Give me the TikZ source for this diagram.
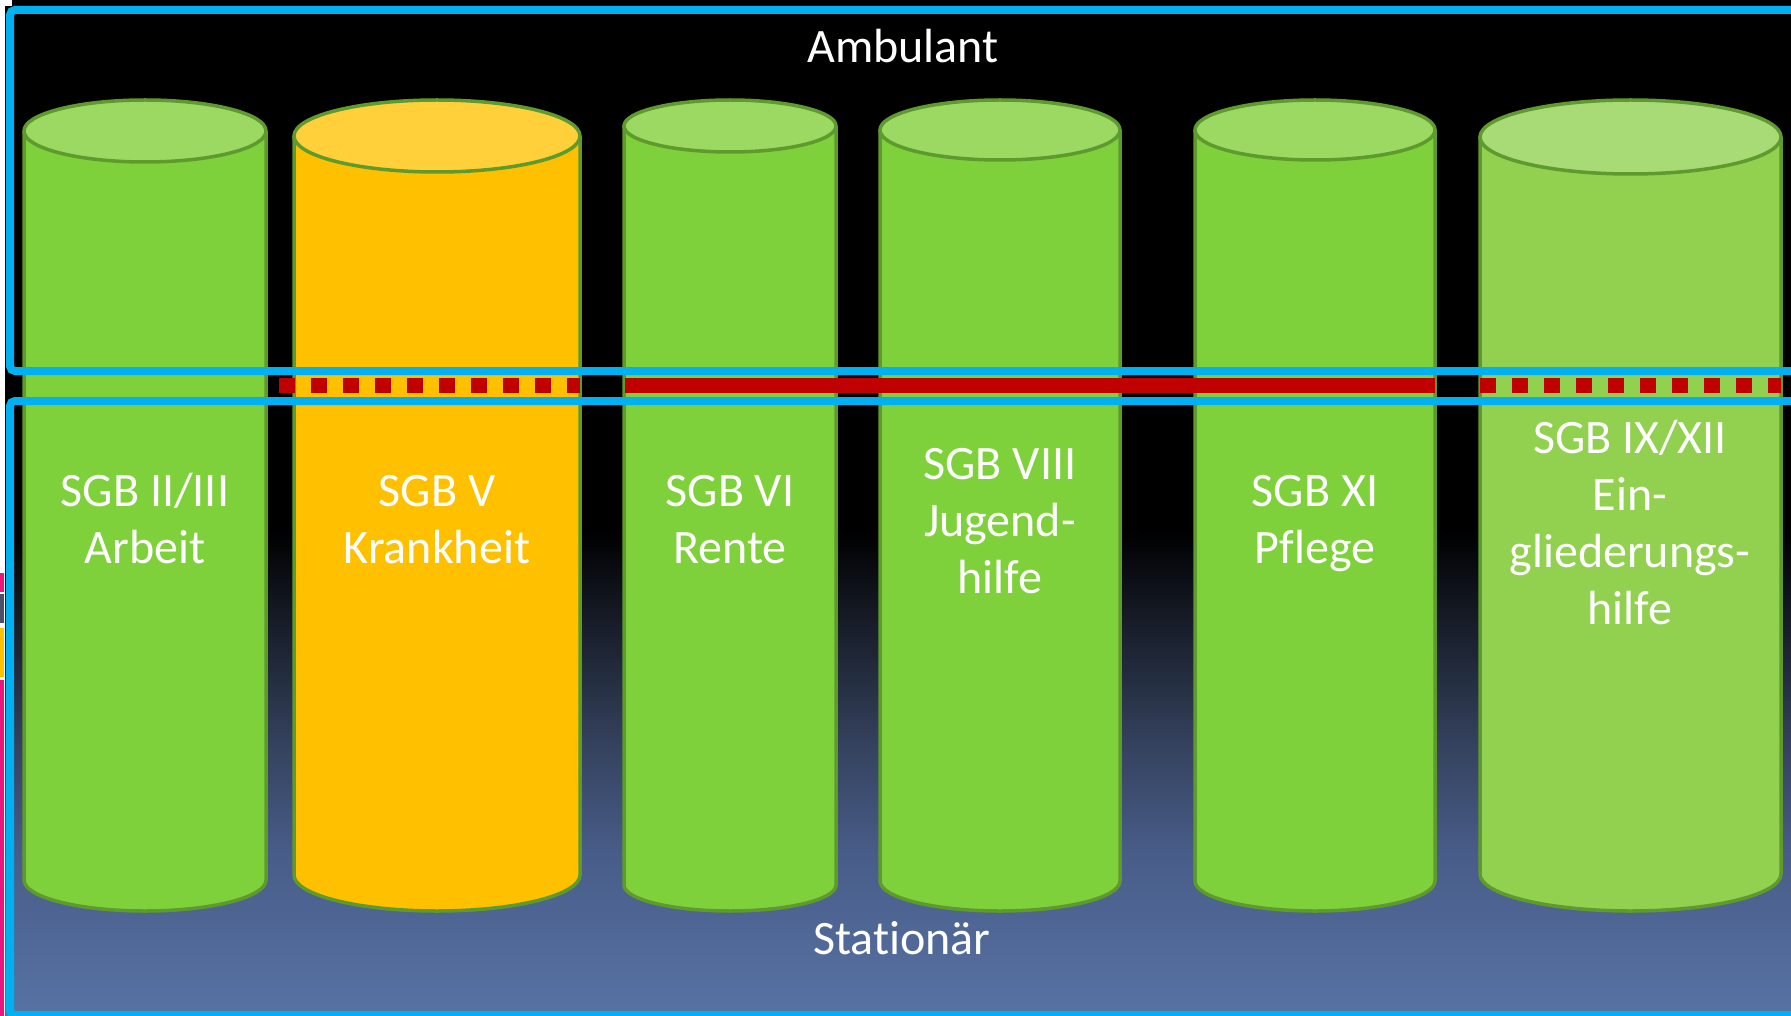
\documentclass[tikz,border=0pt]{standalone}
\usepackage{fontspec}
\setmainfont{Carlito}[Ligatures=NoCommon]
\definecolor{sgbblue}{HTML}{00B0F0}
\definecolor{barred}{HTML}{C00000}
\definecolor{cylout}{HTML}{5E9A2D}
\definecolor{gbody}{HTML}{7ED13B}
\definecolor{gtop}{HTML}{9BD962}
\definecolor{lbody}{HTML}{92D050}
\definecolor{ltop}{HTML}{A8DB76}
\definecolor{obody}{HTML}{FFC000}
\definecolor{otop}{HTML}{FFD03A}
\definecolor{bgA}{HTML}{34415C}
\definecolor{bgB}{HTML}{485C88}
\definecolor{bgC}{HTML}{5773A4}
\definecolor{strippink}{HTML}{E8177D}
\definecolor{stripgray}{HTML}{4A5068}
\definecolor{stripyellow}{HTML}{FFC000}
\tikzset{
  cylline/.style={draw=cylout, line width=3.5pt},
  bluebox/.style={draw=sgbblue, line width=8pt, rounded corners=5pt},
  redbar/.style={draw=barred, line width=15pt},
  redbroken/.style={redbar, dash pattern=on 16pt off 16pt},
  lbl/.style={text=white, font=\fontsize{48}{57}\selectfont, align=center, inner sep=0pt, anchor=base},
}
% #1 x left, #2 x right, #3 ellipse half height, #4 body colour, #5 top colour
\newcommand\sgbcyl[5]{%
  \pgfmathsetmacro\cylcx{(#1+#2)/2}%
  \pgfmathsetmacro\cylrx{(#2-#1)/2}%
  \pgfmathsetmacro\cylyt{100+#3}%
  \pgfmathsetmacro\cylyb{911-#3}%
  \pgfmathsetmacro\cylk{0.5523*#3}%
  \pgfmathsetmacro\cylkx{0.5523*\cylrx}%
  \fill[#4] (#1,\cylyt) -- (#1,\cylyb)
     .. controls (#1,\cylyb+\cylk) and (\cylcx-\cylkx,911) .. (\cylcx,911)
     .. controls (\cylcx+\cylkx,911) and (#2,\cylyb+\cylk) .. (#2,\cylyb)
     -- (#2,\cylyt) -- cycle;
  \draw[cylline] (#1,\cylyt) -- (#1,\cylyb)
     .. controls (#1,\cylyb+\cylk) and (\cylcx-\cylkx,911) .. (\cylcx,911)
     .. controls (\cylcx+\cylkx,911) and (#2,\cylyb+\cylk) .. (#2,\cylyb)
     -- (#2,\cylyt);
  \filldraw[fill=#5, cylline] (\cylcx,\cylyt) ellipse [x radius=\cylrx pt, y radius=#3 pt];
}
\begin{document}
\begin{tikzpicture}[x=1pt, y=-1pt]
\useasboundingbox (0,0) rectangle (1791,1016);
% background
\fill[white] (0,0) rectangle (1791,1016);
\fill[black] (5,0) rectangle (1791,531);
\shade[top color=black, bottom color=bgA] (5,530) rectangle (1791,741);
\shade[top color=bgA, bottom color=bgB] (5,740) rectangle (1791,851);
\shade[top color=bgB, bottom color=bgC] (5,850) rectangle (1791,1016);
\fill[white] (0,0) rectangle (12,6);
% left edge strips
\fill[strippink] (0,573) rectangle (4,592);
\fill[stripgray] (0,594) rectangle (4,623);
\fill[stripyellow] (0,628) rectangle (4,677);
\fill[strippink] (0,680) rectangle (4,1016);
% cylinders
\sgbcyl{24}{266}{31}{gbody}{gtop}
\sgbcyl{294}{580}{36}{obody}{otop}
\sgbcyl{624}{836}{26}{gbody}{gtop}
\sgbcyl{880}{1120}{30}{gbody}{gtop}
\sgbcyl{1195}{1435}{30}{gbody}{gtop}
\sgbcyl{1480}{1781}{37}{lbody}{ltop}
% boxes
\draw[bluebox] (1810,10) -- (10,10) -- (10,371) -- (1810,371);
\draw[bluebox] (1810,401) -- (10,401) -- (10,1015) -- (1810,1015);
% bars
\draw[redbroken] (279,385.5) -- (580,385.5);
\draw[redbar] (625,385.5) -- (1435,385.5);
\draw[redbroken] (1480,385.5) -- (1781,385.5);
% labels
\node[lbl] (amb) at (903,63) {Ambulant};
\node[lbl] (stat) at (902,954) {Stationär};
\node[lbl] (t1) at (145,563) {SGB II/III\\Arbeit};
\node[lbl] (t2) at (437,563) {SGB V\\Krankheit};
\node[lbl] (t3) at (730,563) {SGB VI\\Rente};
\node[lbl] (t4) at (1000,593) {SGB VIII\\Jugend-\\hilfe};
\node[lbl] (t5) at (1315,563) {SGB XI\\Pflege};
\node[lbl] (t6) at (1630,624) {SGB IX/XII\\Ein-\\gliederungs-\\hilfe};
\end{tikzpicture}
\end{document}
